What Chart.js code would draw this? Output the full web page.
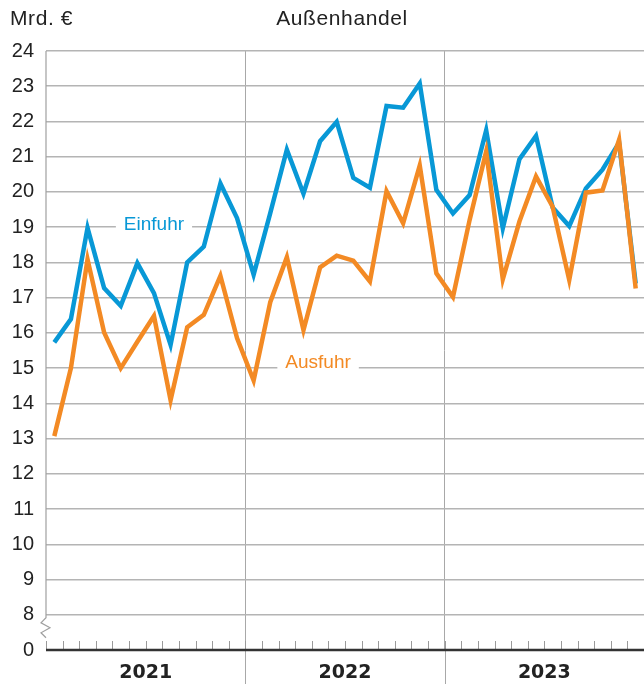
<!DOCTYPE html>
<html>
<head>
<meta charset="utf-8">
<script src="https://cdn.jsdelivr.net/npm/chart.js@4.4.1/dist/chart.umd.min.js"></script>
<style>
  html, body { margin: 0; padding: 0; background: #fff; }
  #wrap { width: 644px; height: 686px; position: relative; }
</style>
</head>
<body>
<div id="wrap"><canvas id="c" width="644" height="686"></canvas></div>
<script>
// ---- data ----
const years = ['2021', '2022', '2023'];
const months = [];
years.forEach(y => { for (let m = 1; m <= 12; m++) months.push(y + '-' + String(m).padStart(2, '0')); });

const einfuhr = [
  15.73, 16.39, 18.98, 17.27, 16.77, 17.98, 17.13, 15.66, 18.00, 18.45, 20.24, 19.26,
  17.65, 19.40, 21.20, 19.95, 21.44, 21.99, 20.40, 20.12, 22.44, 22.39, 23.08, 20.06,
  19.39, 19.91, 21.75, 18.97, 20.93, 21.59, 19.56, 19.03, 20.10, 20.63, 21.40, 17.40
];
const ausfuhr = [
  13.07, 15.00, 18.09, 16.01, 15.00, 15.75, 16.48, 14.09, 16.16, 16.51, 17.62, 15.85,
  14.65, 16.87, 18.15, 16.08, 17.86, 18.19, 18.05, 17.46, 20.02, 19.11, 20.75, 17.69,
  17.02, 19.20, 21.15, 17.52, 19.16, 20.44, 19.58, 17.50, 19.98, 20.04, 21.48, 17.26
];
const yMin = 7, yMax = 24;       // 7 stands for the broken-axis "0"
const titleLeft = 'Mrd. €';
const titleCenter = 'Außenhandel';
const seriesLabels = ['Einfuhr', 'Ausfuhr'];

const BLUE = '#0898d6';
const ORANGE = '#f38a24';
const GRID = '#b4b4b4';
const TEXT = '#222222';

const decor = {
  id: 'decor',
  beforeDatasetsDraw(chart) {
    const ctx = chart.ctx, xs = chart.scales.x, ys = chart.scales.y;
    ctx.save();
    ctx.font = '19px "Liberation Sans", Arial, sans-serif';
    ctx.textBaseline = 'alphabetic';
    ctx.textAlign = 'center';
    const items = [
      { t: seriesLabels[0], i: 6, v: 19, c: BLUE, dx: 0, dy: 3 },
      { t: seriesLabels[1], i: 16, v: 15, c: ORANGE, dx: -2, dy: 0 }
    ];
    items.forEach(it => {
      const x = xs.getPixelForValue(it.i) + it.dx;
      const y = ys.getPixelForValue(it.v);
      const w = ctx.measureText(it.t).width + 16;
      ctx.fillStyle = '#fff';
      ctx.fillRect(x - w / 2, y - 3, w, 6);
      ctx.fillStyle = it.c;
      ctx.fillText(it.t, x, y + it.dy);
    });
    ctx.restore();
  },
  afterDraw(chart) {
    const ctx = chart.ctx, xs = chart.scales.x, ys = chart.scales.y, x2 = chart.scales.x2;
    const a = chart.chartArea;
    ctx.save();
    // left axis line with break
    const y8 = ys.getPixelForValue(8);
    ctx.strokeStyle = '#a0a0a0';
    ctx.lineWidth = 1.2;
    ctx.beginPath();
    ctx.moveTo(a.left, a.top);
    ctx.lineTo(a.left, y8 + 3);
    ctx.lineTo(a.left - 5, y8 + 8);
    ctx.lineTo(a.left + 4, y8 + 13);
    ctx.lineTo(a.left - 5, y8 + 18);
    ctx.lineTo(a.left, y8 + 23);
    ctx.stroke();
    // month ticks
    const step = (a.right - a.left) / months.length;
    ctx.strokeStyle = '#9a9a9a';
    ctx.lineWidth = 1;
    for (let i = 0; i < months.length; i++) {
      const x = Math.round(a.left + i * step) + 0.5;
      ctx.beginPath();
      ctx.moveTo(x, a.bottom - 9);
      ctx.lineTo(x, a.bottom);
      ctx.stroke();
    }
    // year dividers below baseline
    ctx.strokeStyle = '#a8a8a8';
    for (let i = 0; i < years.length - 1; i++) {
      const x = (x2.getPixelForTick(i) + x2.getPixelForTick(i + 1)) / 2;
      ctx.beginPath();
      ctx.moveTo(Math.round(x) + 0.5, a.bottom);
      ctx.lineTo(Math.round(x) + 0.5, chart.height - 2);
      ctx.stroke();
    }
    // baseline
    ctx.strokeStyle = '#333';
    ctx.lineWidth = 2.4;
    ctx.beginPath();
    ctx.moveTo(a.left, a.bottom);
    ctx.lineTo(a.right, a.bottom);
    ctx.stroke();
    // titles
    ctx.fillStyle = TEXT;
    ctx.font = '21px "Liberation Sans", Arial, sans-serif';
    try { ctx.letterSpacing = '0.6px'; } catch (e) {}
    ctx.textBaseline = 'alphabetic';
    ctx.textAlign = 'left';
    ctx.fillText(titleLeft, 10, 25);
    ctx.textAlign = 'center';
    ctx.fillText(titleCenter, 342, 25);
    ctx.restore();
  }
};

new Chart(document.getElementById('c'), {
  type: 'line',
  data: {
    labels: months,
    datasets: [
      { label: seriesLabels[0], data: einfuhr, borderColor: BLUE, borderWidth: 4.5, pointRadius: 0, tension: 0, order: 1,
        borderJoinStyle: 'miter', borderCapStyle: 'butt', xAxisID: 'x', yAxisID: 'y' },
      { label: seriesLabels[1], data: ausfuhr, borderColor: ORANGE, borderWidth: 4.5, pointRadius: 0, tension: 0, order: 0,
        borderJoinStyle: 'miter', borderCapStyle: 'butt', xAxisID: 'x', yAxisID: 'y' }
    ]
  },
  options: {
    responsive: false,
    animation: false,
    events: [],
    layout: { padding: { top: 51, right: 0, left: 0, bottom: 0 } },
    plugins: { legend: { display: false }, tooltip: { enabled: false }, title: { display: false } },
    scales: {
      x: {
        type: 'category',
        offset: true,
        display: false
      },
      x2: {
        type: 'category',
        labels: years,
        position: 'bottom',
        offset: true,
        grid: {
          offset: true,
          drawTicks: false,
          lineWidth: 1,
          color: (c) => (c.index === 0 || c.index === years.length) ? 'rgba(0,0,0,0)' : '#a8a8a8'
        },
        border: { display: false },
        ticks: {
          color: TEXT,
          font: { family: '"DejaVu Sans", sans-serif', size: 19, weight: 'bold' },
          padding: 12
        },
        afterFit(s) { s.height = 36; }
      },
      y: {
        min: yMin,
        max: yMax,
        position: 'left',
        border: { display: false },
        grid: {
          drawTicks: false,
          lineWidth: 1.5,
          color: (c) => c.tick && c.tick.value === yMin ? 'rgba(0,0,0,0)' : GRID
        },
        ticks: {
          stepSize: 1,
          padding: 12,
          color: TEXT,
          font: { family: '"Liberation Sans", Arial, sans-serif', size: 20 },
          callback: (v) => v === yMin ? '0' : String(v)
        },
        afterFit(s) { s.width = 46; }
      }
    }
  },
  plugins: [decor]
});
</script>
</body>
</html>
